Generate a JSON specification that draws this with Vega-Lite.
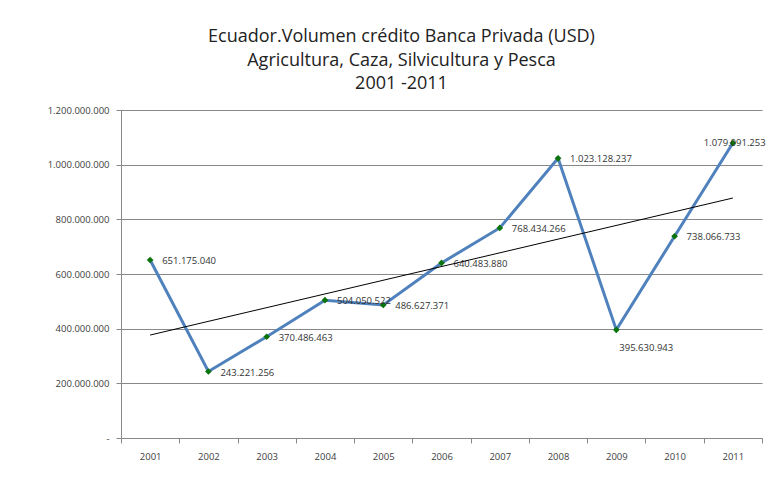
{
  "$schema": "https://vega.github.io/schema/vega-lite/v6.json",
  "width": 641,
  "height": 328,
  "autosize": "none",
  "padding": {"left": 121, "top": 110, "right": 11, "bottom": 46},
  "background": "white",
  "config": {
    "view": {"stroke": null},
    "locale": {"number": {"decimal": ",", "thousands": ".", "grouping": [3], "currency": ["$", ""]}},
    "font": "Open Sans"
  },
  "title": {
    "text": ["Ecuador.Volumen crédito Banca Privada (USD)", "Agricultura, Caza, Silvicultura y Pesca", "2001 -2011"],
    "font": "Open Sans",
    "fontSize": 18,
    "fontWeight": "normal",
    "color": "#222222",
    "lineHeight": 23.5,
    "anchor": "middle",
    "dx": -40,
    "offset": 12
  },
  "data": {
    "values": [
      {"year": 2001, "value": 651175040},
      {"year": 2002, "value": 243221256},
      {"year": 2003, "value": 370486463},
      {"year": 2004, "value": 504050522},
      {"year": 2005, "value": 486627371},
      {"year": 2006, "value": 640483880},
      {"year": 2007, "value": 768434266},
      {"year": 2008, "value": 1023128237},
      {"year": 2009, "value": 395630943},
      {"year": 2010, "value": 738066733},
      {"year": 2011, "value": 1079091253}
    ]
  },
  "encoding": {
    "y": {
      "field": "value",
      "type": "quantitative",
      "scale": {"domain": [0, 1200000000], "nice": false},
      "axis": {
        "title": null,
        "values": [0, 200000000, 400000000, 600000000, 800000000, 1000000000, 1200000000],
        "labelExpr": "datum.value == 0 ? '-\u00a0\u00a0' : format(datum.value, ',')",
        "labelFont": "Open Sans",
        "labelFontSize": 9.5,
        "labelColor": "#404040",
        "labelPadding": 7,
        "tickSize": 5,
        "tickColor": "#888888",
        "domainColor": "#888888",
        "grid": true,
        "gridColor": "#888888",
        "gridWidth": 1
      }
    }
  },
  "layer": [
    {
      "layer": [
        {
          "mark": {"type": "line", "color": "#4F81BD", "strokeWidth": 3},
          "encoding": {
            "x": {
              "field": "year",
              "type": "ordinal",
              "bandPosition": 0.5,
              "scale": {"type": "band", "paddingInner": 0, "paddingOuter": 0},
              "axis": {
                "title": null,
                "labelAngle": 0,
                "labelFont": "Open Sans",
                "labelFontSize": 9.5,
                "labelColor": "#404040",
                "labelPadding": 8,
                "tickBand": "extent",
                "tickSize": 5,
                "tickColor": "#888888",
                "domainColor": "#888888",
                "grid": false
              }
            }
          }
        },
        {
          "mark": {"type": "point", "shape": "diamond", "filled": true, "color": "#0B730B", "size": 45, "opacity": 1},
          "encoding": {
            "x": {"field": "year", "type": "ordinal", "bandPosition": 0.5}
          }
        },
        {
          "transform": [{"filter": "datum.year != 2009 && datum.year != 2011"}],
          "mark": {"type": "text", "align": "left", "baseline": "middle", "dx": 12, "dy": 1, "fontSize": 9.5, "color": "#333333", "font": "Open Sans"},
          "encoding": {
            "x": {"field": "year", "type": "ordinal", "bandPosition": 0.5},
            "text": {"field": "value", "type": "quantitative", "format": ","}
          }
        },
        {
          "transform": [{"filter": "datum.year == 2009"}],
          "mark": {"type": "text", "align": "left", "baseline": "middle", "dx": 3, "dy": 18, "fontSize": 9.5, "color": "#333333", "font": "Open Sans"},
          "encoding": {
            "x": {"field": "year", "type": "ordinal", "bandPosition": 0.5},
            "text": {"field": "value", "type": "quantitative", "format": ","}
          }
        },
        {
          "transform": [{"filter": "datum.year == 2011"}],
          "mark": {"type": "text", "align": "left", "baseline": "middle", "dx": -29, "dy": 0, "fontSize": 9.5, "color": "#333333", "font": "Open Sans"},
          "encoding": {
            "x": {"field": "year", "type": "ordinal", "bandPosition": 0.5},
            "text": {"field": "value", "type": "quantitative", "format": ","}
          }
        }
      ]
    },
    {
      "transform": [{"regression": "value", "on": "year"}],
      "mark": {"type": "line", "color": "#000000", "strokeWidth": 1},
      "encoding": {
        "x": {
          "field": "year",
          "type": "quantitative",
          "scale": {"domain": [2000.5, 2011.5], "nice": false, "zero": false},
          "axis": null
        }
      }
    }
  ],
  "resolve": {"scale": {"x": "independent"}}
}
